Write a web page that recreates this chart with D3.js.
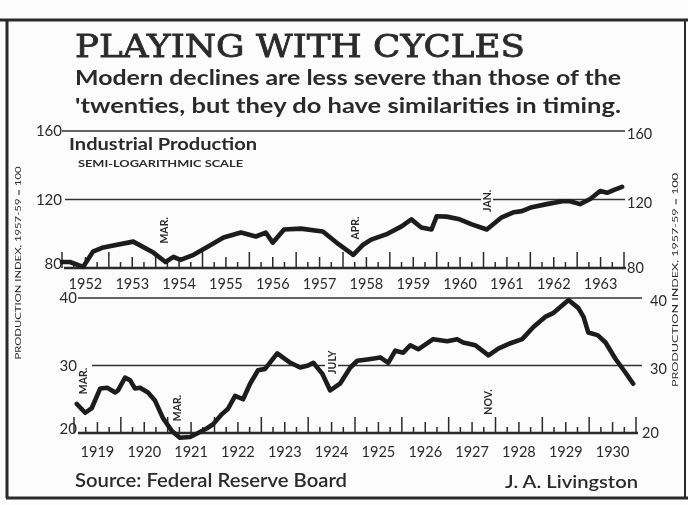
<!DOCTYPE html>
<html>
<head>
<meta charset="utf-8">
<script src="https://cdn.jsdelivr.net/npm/d3@7"></script>
<style>
  html, body { margin: 0; padding: 0; background: #fcfcfc; }
  svg { display: block; }
  text { fill: #2b2b2b; }
</style>
</head>
<body>
<svg id="chart" width="688" height="505"></svg>
<script>
// ---------------- DATA ----------------
const titleText = "PLAYING WITH CYCLES";
const subtitleLines = [
  "Modern declines are less severe than those of the",
  "'twenties, but they do have similarities in timing."
];
const panelTitle = "Industrial Production";
const panelSubtitle = "SEMI-LOGARITHMIC SCALE";
const axisTitle = "PRODUCTION INDEX, 1957-59 = 100";
const sourceText = "Source: Federal Reserve Board";
const authorText = "J. A. Livingston";

// Modern period (1952-1963)
const modernYears = ["1952","1953","1954","1955","1956","1957","1958","1959","1960","1961","1962","1963"];
const modernTicks = [80, 120, 160];
const modernDates = [1952.00,1952.17,1952.45,1952.66,1952.88,1953.52,1953.95,1954.21,1954.38,1954.53,1954.81,
  1955.11,1955.45,1955.82,1956.14,1956.35,1956.50,1956.74,1957.10,1957.57,1957.92,1958.22,1958.43,1958.60,
  1958.92,1959.25,1959.46,1959.67,1959.89,1960.00,1960.21,1960.49,1960.75,1961.07,1961.39,1961.65,1961.82,
  1962.03,1962.35,1962.68,1962.85,1963.06,1963.28,1963.49,1963.64,1963.79,1963.96];
const modernValues = [83.5,83.5,80.6,89.5,92.0,95.4,89.0,83.5,86.5,84.7,87.7,
  92.4,97.8,100.7,98.4,100.7,94.8,102.5,103.0,101.3,93.6,87.7,93.6,96.6,
  99.6,104.3,108.4,103.7,102.5,110.2,110.0,108.4,105.5,102.5,109.6,112.6,113.2,
  115.5,117.3,119.0,119.0,117.3,120.3,125.0,123.9,125.6,127.4];
const modernNotes = [{label:"MAR.", date:1954.17, value:102}, {label:"APR.", date:1958.25, value:103.4}, {label:"JAN.", date:1961.08, value:119.2}];

// 'Twenties period (1919-1930)
const oldYears = ["1919","1920","1921","1922","1923","1924","1925","1926","1927","1928","1929","1930"];
const oldTicks = [20, 30, 40];
const oldDates = [1919.06,1919.24,1919.38,1919.56,1919.71,1919.88,1919.94,1920.09,1920.20,1920.30,1920.41,
  1920.58,1920.73,1920.90,1921.09,1921.26,1921.48,1921.65,1921.84,1921.97,1922.16,1922.29,1922.44,1922.61,
  1922.76,1922.93,1923.08,1923.34,1923.62,1923.83,1924.00,1924.11,1924.30,1924.47,1924.68,1924.90,1925.05,
  1925.26,1925.54,1925.71,1925.86,1926.03,1926.18,1926.35,1926.67,1926.97,1927.18,1927.31,1927.57,1927.85,
  1928.06,1928.32,1928.57,1928.81,1929.06,1929.24,1929.56,1929.77,1929.88,1929.98,1930.18,1930.35,1930.56,
  1930.77,1930.94];
const oldValues = [24.3,23.0,23.7,26.6,26.7,26.0,26.3,28.2,27.8,26.6,26.7,
  26.0,24.8,22.2,20.3,19.3,19.4,20.0,20.7,21.3,22.8,23.6,25.5,25.0,
  27.3,29.3,29.5,31.8,30.4,29.7,30.0,30.4,28.8,26.3,27.3,29.7,30.7,
  30.9,31.2,30.4,32.2,31.9,33.0,32.4,33.9,33.6,33.9,33.4,33.0,31.5,
  32.5,33.3,33.9,35.7,37.2,37.8,39.7,38.5,37.2,34.9,34.5,33.4,31.0,
  29.0,27.3];
const oldNotes = [{label:"MAR.", date:1919.19, value:27.7}, {label:"MAR.", date:1921.2, value:23.7},
                  {label:"JULY", date:1924.5, value:30.5}, {label:"NOV.", date:1927.84, value:24.6}];

// ---------------- DRAW ----------------
const svg = d3.select("#chart");
const defs = svg.append("defs");
defs.append("filter").attr("id", "soft").attr("x", "-5%").attr("y", "-5%").attr("width", "110%").attr("height", "110%")
  .append("feGaussianBlur").attr("stdDeviation", 0.45);
const root = svg.append("g").attr("filter", "url(#soft)");
const ink = "#2b2b2b";
const sans = "Lato, 'Open Sans', sans-serif";

// Frame
root.append("line").attr("x1", 0).attr("x2", 688).attr("y1", 20).attr("y2", 20).attr("stroke", ink).attr("stroke-width", 3);
root.append("line").attr("x1", 7).attr("x2", 7).attr("y1", 19).attr("y2", 498).attr("stroke", ink).attr("stroke-width", 3);
root.append("line").attr("x1", 6).attr("x2", 688).attr("y1", 498).attr("y2", 498).attr("stroke", ink).attr("stroke-width", 3);
root.append("line").attr("x1", 685).attr("x2", 685).attr("y1", 19).attr("y2", 498).attr("stroke", ink).attr("stroke-width", 2);

// Titles
root.append("text").attr("x", 75).attr("y", 57).text(titleText)
  .attr("font-family", "'DejaVu Serif', serif").attr("font-weight", "normal").attr("font-size", 32)
  .attr("stroke", "#2b2b2b").attr("stroke-width", 0.8)
  .attr("textLength", 450).attr("lengthAdjust", "spacingAndGlyphs");
subtitleLines.forEach((s, i) => {
  root.append("text").attr("x", 75).attr("y", 85 + i * 28).text(s)
    .attr("font-family", sans).attr("font-weight", "bold").attr("font-size", 20)
    .attr("textLength", 546).attr("lengthAdjust", "spacingAndGlyphs");
});

// Panel builder
function panel(opts) {
  const x = d3.scaleLinear().domain(opts.xDomain).range(opts.xRange);
  const y = d3.scaleLinear().domain(opts.yDomain).range(opts.yRange);
  const g = root.append("g");

  opts.ticks.slice(1).forEach(v => {
    opts.gridSegs(v).forEach(([a, b]) => {
      g.append("line").attr("x1", a).attr("x2", b).attr("y1", y(v)).attr("y2", y(v))
        .attr("stroke", "#333").attr("stroke-width", 1.6);
    });
  });

  const x1 = opts.xRange[1];
  g.append("line").attr("x1", opts.axisStart).attr("x2", x1 + 2).attr("y1", y(opts.yDomain[0])).attr("y2", y(opts.yDomain[0]))
    .attr("stroke", ink).attr("stroke-width", 2.4);

  const qs = d3.range(opts.xDomain[0] * 4, opts.xDomain[1] * 4 + 1).map(q => q / 4);
  g.selectAll(".tk").data(qs).join("line")
    .attr("x1", d => x(d)).attr("x2", d => x(d))
    .attr("y1", y(opts.yDomain[0]))
    .attr("y2", d => {
      const f = Math.round((d % 1) * 4);
      const h = f === 0 ? 16 : (f === 2 ? 11 : 6);
      return y(opts.yDomain[0]) - h;
    })
    .attr("stroke", ink).attr("stroke-width", 1.5);

  g.selectAll(".yl").data(opts.years).join("text")
    .attr("x", (d, i) => x(opts.xDomain[0] + i + 0.5))
    .attr("y", y(opts.yDomain[0]) + opts.yearDy)
    .attr("text-anchor", "middle")
    .attr("font-family", sans).attr("font-size", 14.5).attr("fill", "#333")
    .text(d => d);

  opts.ticks.forEach((v, i) => {
    const base = i === 0;
    g.append("text").attr("x", opts.leftLabelX).attr("y", y(v) + (base ? -4 : 0))
      .attr("dy", "0.35em").attr("text-anchor", "end")
      .attr("font-family", sans).attr("font-size", 15).attr("fill", "#3a3a3a").text(v);
    g.append("text").attr("x", opts.rightLabelX(v)).attr("y", y(v) + (base ? 0 : 3))
      .attr("dy", "0.35em").attr("text-anchor", "start")
      .attr("font-family", sans).attr("font-size", 14.5).attr("fill", "#3a3a3a").text(v);
  });

  opts.notes.forEach(n => {
    g.append("text")
      .attr("transform", `translate(${x(n.date) + 4},${y(n.value)}) rotate(-90)`)
      .attr("text-anchor", "middle")
      .attr("font-family", sans).attr("font-weight", "bold").attr("font-size", 10.5)
      .attr("fill", "#333").text(n.label);
  });

  const line = d3.line().x(d => x(d[0])).y(d => y(d[1]));
  const pts = opts.dates.map((d, i) => [d, opts.values[i]]);
  g.append("path").attr("d", line(pts)).attr("fill", "none")
    .attr("stroke", "#1f1f1f").attr("stroke-width", 4.6)
    .attr("stroke-linejoin", "round").attr("stroke-linecap", "round");
  return { x, y };
}

// Top panel (modern)
panel({
  xDomain: [1952, 1964], xRange: [62, 624],
  yDomain: [80, 160], yRange: [268, 131],
  ticks: modernTicks, years: modernYears, dates: modernDates, values: modernValues, notes: modernNotes,
  axisStart: 64, yearDy: 21, leftLabelX: 62,
  rightLabelX: v => 627,
  gridSegs: v => v === 120 ? [[65, 481], [493, 625]] : [[62, 625]]
});
root.append("text").attr("x", 69).attr("y", 150).text(panelTitle)
  .attr("font-family", sans).attr("font-weight", "bold").attr("font-size", 17)
  .attr("textLength", 188).attr("lengthAdjust", "spacingAndGlyphs");
root.append("text").attr("x", 78).attr("y", 167).text(panelSubtitle)
  .attr("font-family", sans).attr("font-weight", "bold").attr("font-size", 8.5)
  .attr("textLength", 165).attr("lengthAdjust", "spacingAndGlyphs");

// Bottom panel ('twenties)
panel({
  xDomain: [1919, 1931], xRange: [74, 636],
  yDomain: [20, 40], yRange: [433, 298],
  ticks: oldTicks, years: oldYears, dates: oldDates, values: oldValues, notes: oldNotes,
  axisStart: 78, yearDy: 24, leftLabelX: 77,
  rightLabelX: v => v === 20 ? 642 : 650,
  gridSegs: v => v === 30 ? [[92, 325], [338, 642]] : [[78, 642]]
});

// Axis titles (rotated)
root.append("text").attr("transform", "translate(21,263) rotate(-90)")
  .attr("text-anchor", "middle").attr("font-family", sans).attr("font-size", 8)
  .attr("fill", "#666").attr("textLength", 193).attr("lengthAdjust", "spacingAndGlyphs").text(axisTitle);
root.append("text").attr("transform", "translate(678,280) rotate(-90)")
  .attr("text-anchor", "middle").attr("font-family", sans).attr("font-size", 8)
  .attr("fill", "#666").attr("textLength", 214).attr("lengthAdjust", "spacingAndGlyphs").text(axisTitle);

// Footer
root.append("text").attr("x", 75).attr("y", 487).text(sourceText)
  .attr("font-family", sans).attr("font-size", 19).attr("font-weight", 600)
  .attr("textLength", 272).attr("lengthAdjust", "spacingAndGlyphs");
root.append("text").attr("x", 505).attr("y", 488).text(authorText)
  .attr("font-family", sans).attr("font-size", 18).attr("font-weight", 600)
  .attr("textLength", 133).attr("lengthAdjust", "spacingAndGlyphs");
</script>
</body>
</html>
